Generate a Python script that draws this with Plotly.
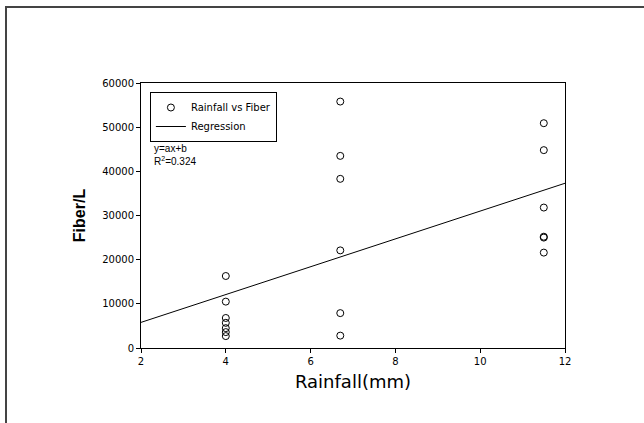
import plotly.graph_objects as go

rain_mm = [4, 4, 4, 4, 4, 4, 4,
           6.7, 6.7, 6.7, 6.7, 6.7, 6.7,
           11.5, 11.5, 11.5, 11.5, 11.5, 11.5]
fiber_per_l = [16300, 10500, 6800, 5700, 4500, 3600, 2700,
               55800, 43500, 38300, 22100, 7900, 2800,
               50900, 44800, 31800, 25200, 25000, 21600]
reg_x = [2, 12]
reg_y = [5800, 37300]
x_ticks = [2, 4, 6, 8, 10, 12]
y_ticks = [0, 10000, 20000, 30000, 40000, 50000, 60000]
y_tick_text = ["0", "10000", "20000", "30000", "40000", "50000", "60000"]

font = "DejaVu Sans, Liberation Sans, Arial, sans-serif"
arial = "Liberation Sans, Arial, sans-serif"

fig = go.Figure()
fig.add_trace(go.Scatter(
    x=rain_mm, y=fiber_per_l, mode="markers", name="Rainfall vs Fiber",
    marker=dict(symbol="circle-open", size=7, color="black", line=dict(width=1, color="black")),
))
fig.add_trace(go.Scatter(
    x=reg_x, y=reg_y, mode="lines", name="Regression",
    line=dict(color="black", width=1),
))

fig.update_layout(
    width=644, height=423,
    margin=dict(l=141, r=79, t=83, b=75),
    paper_bgcolor="white", plot_bgcolor="white",
    font=dict(family=font, color="black", size=10),
    showlegend=True,
    legend=dict(
        x=0.021, y=0.966, xanchor="left", yanchor="top",
        bordercolor="black", borderwidth=1, bgcolor="white",
        font=dict(size=10, family=font), tracegroupgap=0,
        itemwidth=30,
    ),
    xaxis=dict(
        range=[2, 12], tickvals=x_ticks, ticks="outside", ticklen=4,
        tickcolor="black", showline=True, linecolor="black", linewidth=1,
        mirror=True, showgrid=False, zeroline=False,
        tickfont=dict(size=10, family=font),
        title=dict(text="Rainfall(mm)", font=dict(size=18, family=font), standoff=9),
    ),
    yaxis=dict(
        range=[0, 60000], tickvals=y_ticks, ticktext=y_tick_text,
        ticks="outside", ticklen=4,
        tickcolor="black", showline=True, linecolor="black", linewidth=1,
        mirror=True, showgrid=False, zeroline=False,
        tickfont=dict(size=10, family=font),
        title=dict(text="<b>Fiber/L</b>", font=dict(size=16, family=arial), standoff=12),
    ),
    annotations=[
        dict(text="y=ax+b", xref="paper", yref="paper", x=0.026, y=0.751,
             xanchor="left", yanchor="middle", showarrow=False,
             font=dict(size=10, family=arial)),
        dict(text="R<sup>2</sup>=0.324", xref="paper", yref="paper", x=0.026, y=0.705,
             xanchor="left", yanchor="middle", showarrow=False,
             font=dict(size=10, family=arial)),
    ],
    shapes=[
        dict(type="rect", xref="paper", yref="paper",
             x0=(6 - 141) / 424, x1=(700 - 141) / 424,
             y0=-0.5, y1=1 + (83 - 7) / 265,
             line=dict(color="#444444", width=2), layer="below"),
    ],
)

fig.write_html("out.html", config={"displayModeBar": False},
               post_script="document.body.style.margin='0';")
